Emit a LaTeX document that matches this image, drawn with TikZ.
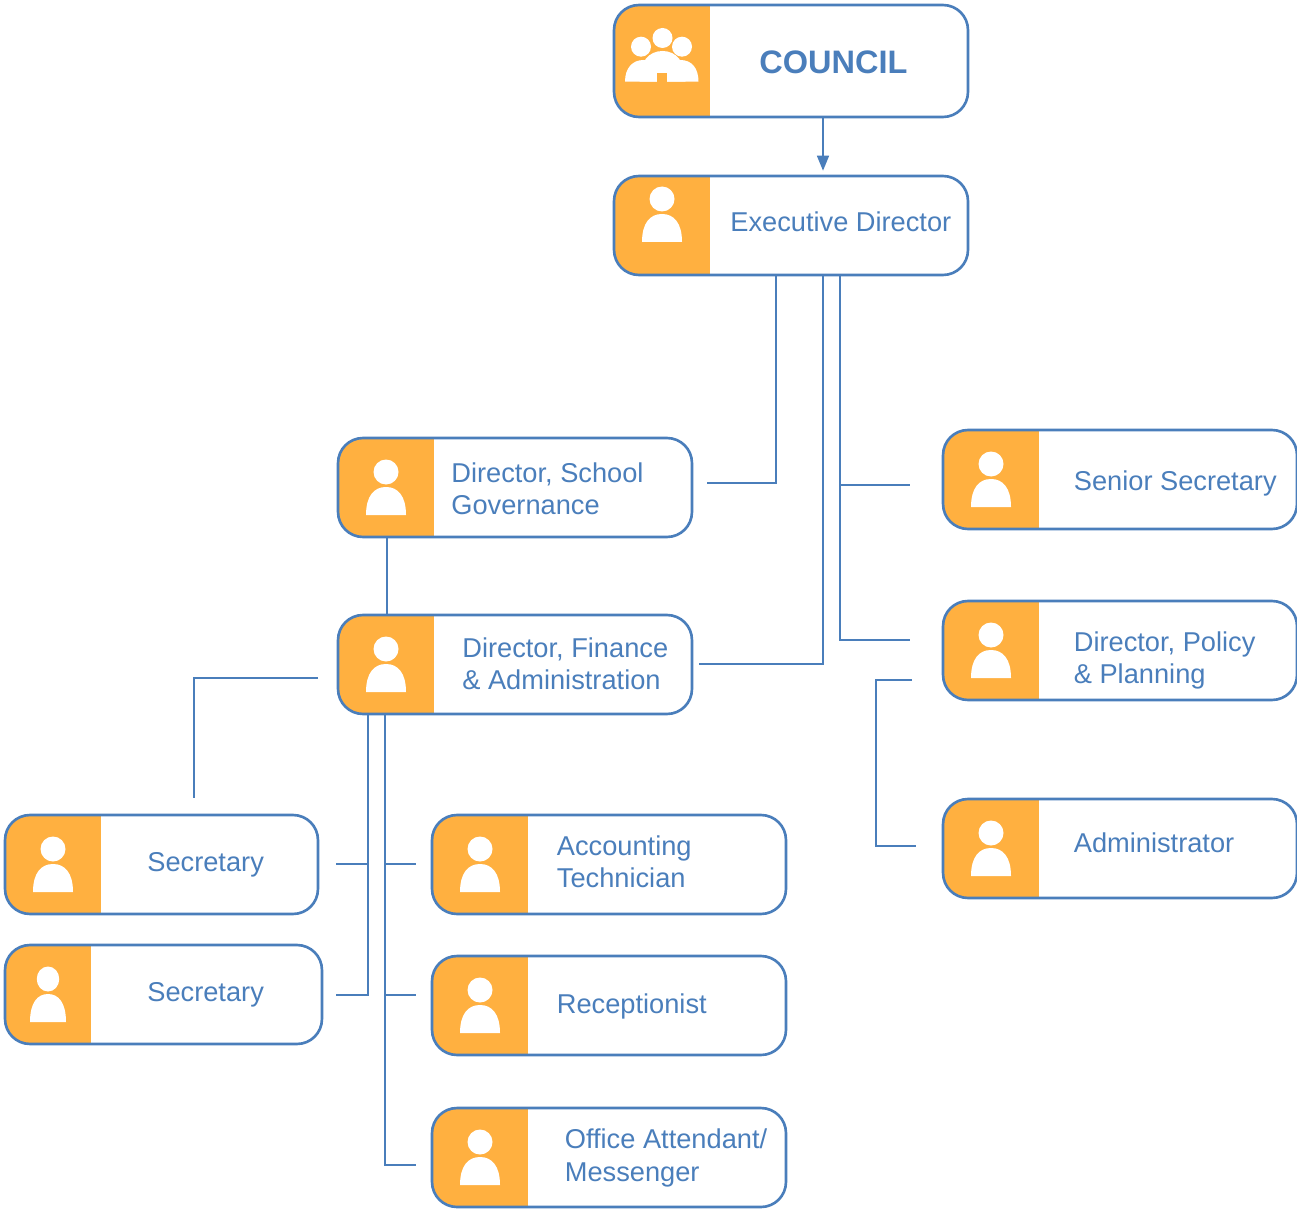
\documentclass[tikz,border=0pt]{standalone}
\usepackage{fontspec}
\setmainfont{Liberation Sans}
\usetikzlibrary{arrows.meta}
\definecolor{cardblue}{HTML}{4A7EBB}
\definecolor{cardorange}{HTML}{FFB040}
\tikzset{
card/.style={rectangle, rounded corners=0.5cm, draw=cardblue, line width=1.5pt, minimum width=7.08cm, minimum height=1.98cm, inner sep=0pt, path picture={\fill[cardorange, sharp corners] (path picture bounding box.north west) rectangle ([xshift=#1]path picture bounding box.south west);}},
label/.style={text=cardblue, font=\fontsize{15.5pt}{18.4pt}\selectfont, align=left, anchor=west, inner sep=0pt},
conn/.style={draw=cardblue, line width=0.9pt},
person/.pic={
    \fill[white] (0,0) circle (12.5);
    \fill[white] (-20,43) .. controls (-20,24) and (-12,15) .. (0,15) .. controls (12,15) and (20,24) .. (20,43) -- cycle;
},
group/.pic={
    \fill[white] (-21.5,8.7) circle (10);
    \fill[white] (19.5,8.7) circle (10);
    \fill[white] (0,0) circle (10);
    \fill[white] (-37.5,43.7) .. controls (-37.5,30) and (-30,22) .. (-19,22) .. controls (-8,22) and (0,30) .. (0,43.7) -- cycle;
    \fill[white] (-1,43.7) .. controls (-1,30) and (7,22) .. (18,22) .. controls (29,22) and (36,30) .. (36,43.7) -- cycle;
    \fill[white] (-23,43.7) .. controls (-23,24) and (-14,13) .. (0,13) .. controls (14,13) and (23,24) .. (23,43.7) -- cycle;
    \fill[cardorange] (-5.5,35) rectangle (4.5,44);
}
}
\begin{document}
\begin{tikzpicture}[x=0.02cm,y=-0.02cm]
        \useasboundingbox (0,0) rectangle (1297,1209);
        % boxes
        \node[card=1.92cm, minimum height=2.24cm] (council) at (791,61) {};
        \node[card=1.92cm] (exec) at (791,225.5) {};
        \node[card=1.92cm] (school) at (515,487.5) {};
        \node[card=1.92cm] (finance) at (515,664.5) {};
        \node[card=1.92cm] (senior) at (1120,479.5) {};
        \node[card=1.92cm] (policy) at (1120,650.5) {};
        \node[card=1.92cm] (admin) at (1120,848.5) {};
        \node[card=1.92cm, minimum width=6.26cm] (sec_a) at (161.5,864.5) {};
        \node[card=1.72cm, minimum width=6.34cm] (sec_b) at (163.5,994.5) {};
        \node[card=1.92cm] (acct) at (609,864.5) {};
        \node[card=1.92cm] (recep) at (609,1005.5) {};
        \node[card=1.92cm] (office) at (609,1157.5) {};
        % icons
        \pic at (662.5,38) {group};
        \pic at (662,199) {person};
        \pic at (386,472) {person};
        \pic at (386,649) {person};
        \pic at (991,464) {person};
        \pic at (991,635) {person};
        \pic at (991,833) {person};
        \pic at (53,849) {person};
        \pic[xscale=0.9] at (48,979) {person};
        \pic at (480,849) {person};
        \pic at (480,990) {person};
        \pic at (480,1142) {person};
        % texts
        \node[label, font=\fontsize{18.5pt}{21pt}\selectfont\bfseries] (council_txt) at (759,62.5) {COUNCIL};
        \node[label] (exec_txt) at (730,222) {Executive Director};
        \node[label] (school_txt) at (451,489) {Director, School\\Governance};
        \node[label] (finance_txt) at (462,664) {Director, Finance\\\& Administration};
        \node[label] (senior_txt) at (1073.5,483) {Senior Secretary};
        \node[label] (policy_txt) at (1073.5,660.5) {Director, Policy\\\& Planning};
        \node[label] (admin_txt) at (1073.5,843) {Administrator};
        \node[label] (sec_a_txt) at (147,865) {Secretary};
        \node[label] (sec_b_txt) at (147,995) {Secretary};
        \node[label] (acct_txt) at (556.5,862) {Accounting\\Technician};
        \node[label] (recep_txt) at (556.5,1006) {Receptionist};
        \node[label] (office_txt) at (564.5,1158) {Office Attendant/\\Messenger};
        % free ends
        \coordinate (school_in) at (707,483);
        \coordinate (finance_in) at (699,664);
        \coordinate (senior_in) at (910,485);
        \coordinate (policy_in) at (910,640);
        \coordinate (policy_out) at (912,680);
        \coordinate (admin_in) at (916,846);
        \coordinate (finance_out) at (318,678);
        \coordinate (sec_top) at (194,798);
        \coordinate (sec_a_in) at (336,864);
        \coordinate (sec_b_in) at (336,995);
        \coordinate (acct_in) at (416,864);
        \coordinate (recep_in) at (416,995);
        \coordinate (office_in) at (416,1165);
        % connectors
        \draw[conn,-{Triangle[length=0.3cm,width=0.24cm]},shorten >=0.08cm] (823,0 |- council.south) -- (823,0 |- exec.north);
        \draw[conn] (776,0 |- exec.south) |- (school_in);
        \draw[conn] (823,0 |- exec.south) |- (finance_in);
        \draw[conn] (840,0 |- exec.south) |- (policy_in);
        \draw[conn] (840,0 |- senior_in) -- (senior_in);
        \draw[conn] (policy_out) -- (876,680) |- (admin_in);
        \draw[conn] (387,0 |- school.south) -- (387,0 |- finance.north);
        \draw[conn] (finance_out) -| (sec_top);
        \draw[conn] (368,0 |- finance.south) |- (sec_b_in);
        \draw[conn] (sec_a_in) -- (368,0 |- sec_a_in);
        \draw[conn] (385,0 |- finance.south) |- (office_in);
        \draw[conn] (385,0 |- acct_in) -- (acct_in);
        \draw[conn] (385,0 |- recep_in) -- (recep_in);
\end{tikzpicture}
\end{document}
